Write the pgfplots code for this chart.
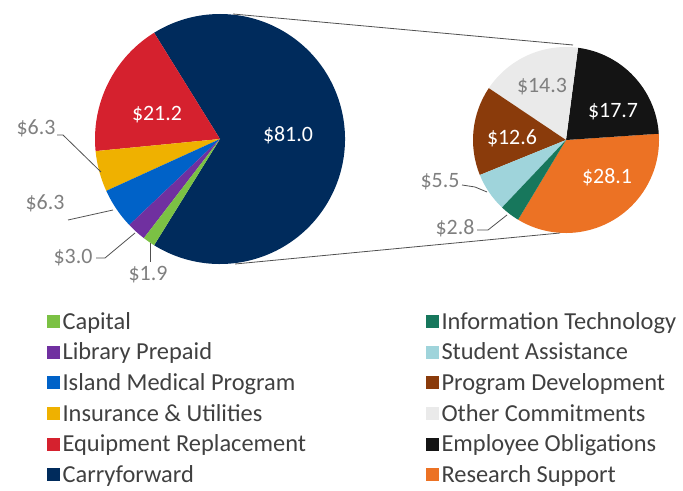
\documentclass[border=0pt]{standalone}
\usepackage{fontspec}
\setmainfont{Carlito}
\usepackage{pgfplots}
\usepackage{pgfplotstable}
\pgfplotsset{compat=1.18}

\definecolor{cCap}{HTML}{7BC144}
\definecolor{cLib}{HTML}{7030A0}
\definecolor{cIsl}{HTML}{0062C8}
\definecolor{cIns}{HTML}{EFB100}
\definecolor{cEquip}{HTML}{D5212E}
\definecolor{cCfw}{HTML}{002B5C}
\definecolor{cIT}{HTML}{17775C}
\definecolor{cStud}{HTML}{9FD4DB}
\definecolor{cProg}{HTML}{8A3B0B}
\definecolor{cOther}{HTML}{EAEAEA}
\definecolor{cEmpl}{HTML}{141414}
\definecolor{cRes}{HTML}{EC7224}
\definecolor{lbgray}{HTML}{7F7F7F}
\definecolor{legtext}{HTML}{404040}
\definecolor{linegray}{HTML}{505050}

% left pie, counter-clockwise from -121.8 deg
\pgfplotstableread{
value color
81.0  cCfw
21.2  cEquip
6.3   cIns
6.3   cIsl
3.0   cLib
1.9   cCap
}\leftpie

% right pie (breakdown of carryforward), counter-clockwise from -121 deg
\pgfplotstableread{
value color
28.1  cRes
17.7  cEmpl
14.3  cOther
12.6  cProg
5.5   cStud
2.8   cIT
}\rightpie

% #1 table, #2 cx, #3 cy, #4 radius, #5 start angle
\newcommand\drawpie[5]{%
  \gdef\pietot{0}%
  \pgfplotstableforeachcolumnelement{value}\of#1\as\pieval{%
    \pgfmathsetmacro\pietmp{\pietot+\pieval}\xdef\pietot{\pietmp}}%
  \gdef\pieang{#5}%
  \pgfplotstableforeachcolumnelement{value}\of#1\as\pieval{%
    \pgfplotstablegetelem{\pgfplotstablerow}{color}\of#1%
    \edef\piecol{\pgfplotsretval}%
    \pgfmathsetmacro\pieend{\pieang+\pieval/\pietot*360}%
    \fill[color=\piecol] (axis cs:#2,#3) -- ++(\pieang:#4bp)
      arc[start angle=\pieang, end angle=\pieend, radius=#4bp] -- cycle;
    \xdef\pieang{\pieend}}%
}

\newcommand\lbl{\fontsize{22}{26}\selectfont}

\begin{document}
\begin{tikzpicture}
\begin{axis}[
  width=683bp, height=491bp, scale only axis,
  xmin=0, xmax=683, ymin=0, ymax=491,
  hide axis, clip=false,
  legend columns=2,
  legend cell align=left,
  legend style={at={(axis cs:44,183)}, anchor=north west,
    draw=none, fill=none, text=legtext,
    font=\fontsize{24.5}{29}\selectfont,
    row sep=8.2bp,
    nodes={inner xsep=3bp, inner ysep=2bp},
    /tikz/every even column/.append style={column sep=117bp}},
  legend image code/.code={\fill[#1] (0bp,-6bp) rectangle (12bp,6bp);},
]
\addlegendimage{cCap}\addlegendentry{Capital}
\addlegendimage{cIT}\addlegendentry{Information Technology}
\addlegendimage{cLib}\addlegendentry{Library Prepaid}
\addlegendimage{cStud}\addlegendentry{Student Assistance}
\addlegendimage{cIsl}\addlegendentry{Island Medical Program}
\addlegendimage{cProg}\addlegendentry{Program Development}
\addlegendimage{cIns}\addlegendentry{Insurance \& Utilities}
\addlegendimage{cOther}\addlegendentry{Other Commitments}
\addlegendimage{cEquip}\addlegendentry{Equipment Replacement}
\addlegendimage{cEmpl}\addlegendentry{Employee Obligations}
\addlegendimage{cCfw}\addlegendentry{Carryforward}
\addlegendimage{cRes}\addlegendentry{Research Support}

\pgfplotsextra{%
  \drawpie{\leftpie}{220}{352}{125}{-121.8}%
  \drawpie{\rightpie}{566}{351}{93}{-121}%
  % connector lines
  \draw[linegray, line width=0.8bp] (axis cs:233,477) -- (axis cs:573,446);
  \draw[linegray, line width=0.8bp] (axis cs:235,227) -- (axis cs:560,258);
  % leader lines
  \draw[linegray, line width=0.8bp] (axis cs:57,356) -- (axis cs:63,356) -- (axis cs:101,319);
  \draw[linegray, line width=0.8bp] (axis cs:68,271) -- (axis cs:113,281);
  \draw[linegray, line width=0.8bp] (axis cs:96,233) -- (axis cs:105,233) -- (axis cs:135,258);
  \draw[linegray, line width=0.8bp] (axis cs:150,229) -- (axis cs:150,248);
  \draw[linegray, line width=0.8bp] (axis cs:462,306) -- (axis cs:475,304) -- (axis cs:487,299);
  \draw[linegray, line width=0.8bp] (axis cs:477,261) -- (axis cs:488,261) -- (axis cs:507,276);
  % labels inside slices
  \node[white, font=\lbl] at (axis cs:157,376) {\$21.2};
  \node[white, font=\lbl] at (axis cs:288,356) {\$81.0};
  \node[white, font=\lbl] at (axis cs:613,379) {\$17.7};
  \node[white, font=\lbl] at (axis cs:512,353) {\$12.6};
  \node[white, font=\lbl] at (axis cs:607,314) {\$28.1};
  \node[lbgray, font=\lbl] at (axis cs:542,404) {\$14.3};
  % outside labels
  \node[lbgray, font=\lbl] at (axis cs:36,363) {\$6.3};
  \node[lbgray, font=\lbl] at (axis cs:45,288) {\$6.3};
  \node[lbgray, font=\lbl] at (axis cs:73,233) {\$3.0};
  \node[lbgray, font=\lbl] at (axis cs:148,216) {\$1.9};
  \node[lbgray, font=\lbl] at (axis cs:440,309) {\$5.5};
  \node[lbgray, font=\lbl] at (axis cs:455,263) {\$2.8};
  \coordinate (bbA) at (axis cs:0,0);
  \coordinate (bbB) at (axis cs:683,491);
}
\end{axis}
\pgfresetboundingbox
\path (bbA) rectangle (bbB);
\end{tikzpicture}
\end{document}
